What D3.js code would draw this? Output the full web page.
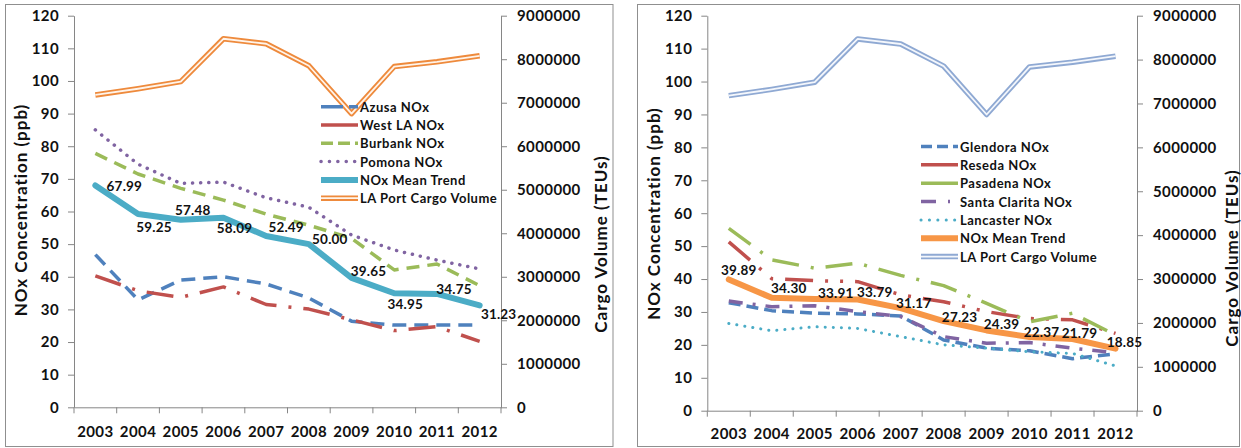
<!DOCTYPE html>
<html>
<head>
<meta charset="utf-8">
<script src="https://cdn.jsdelivr.net/npm/d3@7"></script>
<style>
  html, body { margin: 0; padding: 0; background: #ffffff; }
  svg { display: block; font-family: Lato, "Open Sans", sans-serif; font-weight: 700; }
</style>
</head>
<body>
<svg id="chart" width="1241" height="448"></svg>
<script>
// ---- data -------------------------------------------------------------
const years = ["2003", "2004", "2005", "2006", "2007", "2008", "2009", "2010", "2011", "2012"];
const noxTicks = [0, 10, 20, 30, 40, 50, 60, 70, 80, 90, 100, 110, 120];
const cargoTicks = [0, 1000000, 2000000, 3000000, 4000000, 5000000, 6000000, 7000000, 8000000, 9000000];

// Port of Los Angeles cargo volume (TEUs)
const cargoVolume = [7178940, 7321440, 7484624, 8469853, 8355039, 7849985, 6748994, 7831902, 7940511, 8077714];

// Panel A stations (ppb)
const azusaNOx   = [46.8, 32.9, 39.0, 40.0, 37.8, 33.5, 26.4, 25.2, 25.2, 25.2];
const westLANOx  = [40.3, 35.7, 33.7, 36.9, 31.5, 30.1, 26.8, 23.5, 24.7, 20.2];
const burbankNOx = [77.8, 71.5, 67.1, 63.5, 59.2, 55.8, 51.8, 42.1, 43.9, 37.3];
const pomonaNOx  = [85.0, 74.5, 68.6, 69.0, 64.2, 61.3, 52.8, 48.2, 45.1, 42.4];
const meanTrendA = [67.99, 59.25, 57.48, 58.09, 52.49, 50.00, 39.65, 34.95, 34.75, 31.23];

// Panel B stations (ppb)
const glendoraNOx     = [32.8, 30.4, 29.6, 29.4, 28.8, 21.5, 19.0, 18.2, 15.8, 17.3];
const resedaNOx       = [51.3, 40.1, 39.5, 39.2, 35.2, 33.1, 30.1, 28.0, 27.6, 23.5];
const pasadenaNOx     = [55.4, 45.8, 43.3, 44.8, 41.1, 38.0, 32.6, 27.0, 29.6, 23.0];
const santaClaritaNOx = [33.3, 31.6, 31.9, 30.1, 28.6, 22.5, 20.5, 20.7, 19.0, 17.6];
const lancasterNOx    = [26.5, 24.3, 25.5, 25.0, 22.5, 20.0, 19.0, 17.9, 17.4, 13.6];
const meanTrendB      = [39.89, 34.30, 33.91, 33.79, 31.17, 27.23, 24.39, 22.37, 21.79, 18.85];

// ---- styling / layout ------------------------------------------------
const BLUE = "#4F81BD", RED = "#C0504D", GREEN = "#9BBB59", PURPLE = "#8064A2",
      TEAL = "#4BACC6", ORANGE = "#F79646";

// value-label nudges (px) relative to each mean-trend point
const labelNudgeA = [[29, 1], [16, 13], [12, -10], [11, 10], [20, -9], [21, -5], [17, -7], [11, 11], [17, -5], [19, 9]];
const labelNudgeB = [[10, -9], [17, -10], [21, -6], [17, -7], [13, -5], [16, -4], [15, -6], [12, -5], [7, -6], [9, -7]];

const panels = [
  {
    frame: [5.5, 4.5, 607.5, 442], left: 74, right: 501, top: 15.7, bottom: 407.3,
    xLabelPad: 19, leftTitle: [20, 210], rightTitle: [600, 244],
    legend: { x0: 321, x1: 358, y0: 106.7, step: 18.3 },
    nudges: labelNudgeA,
    series: [
      { name: "Azusa NOx", values: azusaNOx, color: BLUE, width: 3.5, dash: "14,8", legendDash: "22,6" },
      { name: "West LA NOx", values: westLANOx, color: RED, width: 3.5, dash: "27,12,3,12", legendDash: null },
      { name: "Burbank NOx", values: burbankNOx, color: GREEN, width: 3.5, dash: "13,8", legendDash: "12,5" },
      { name: "Pomona NOx", values: pomonaNOx, color: PURPLE, width: 3.5, dash: "0.1,8", cap: "round", legendDash: "0.1,8.3" },
      { name: "NOx Mean Trend", values: meanTrendA, color: TEAL, width: 6, dash: null, labels: true },
      { name: "LA Port Cargo Volume", values: cargoVolume, cargo: true, color: "#EE8A3C", inner: "#FFF4EA" }
    ]
  },
  {
    frame: [637.5, 4.5, 602, 442], left: 707.3, right: 1137, top: 15.7, bottom: 410.7,
    xLabelPad: 17.5, leftTitle: [653, 213.5], rightTitle: [1231, 258],
    legend: { x0: 921, x1: 958, y0: 146.5, step: 18.35 },
    nudges: labelNudgeB,
    series: [
      { name: "Glendora NOx", values: glendoraNOx, color: BLUE, width: 3.5, dash: "12,6", legendDash: "11,5" },
      { name: "Reseda NOx", values: resedaNOx, color: RED, width: 3.5, dash: "28,12,3,12,3,12", legendDash: null },
      { name: "Pasadena NOx", values: pasadenaNOx, color: GREEN, width: 3.5, dash: "27,12,3,12", legendDash: null },
      { name: "Santa Clarita NOx", values: santaClaritaNOx, color: PURPLE, width: 3.5, dash: "14,10,3,10", legendDash: "15,12,2,100" },
      { name: "Lancaster NOx", values: lancasterNOx, color: TEAL, width: 3, dash: "0.1,8", cap: "round", legendDash: "0.1,8.3" },
      { name: "NOx Mean Trend", values: meanTrendB, color: ORANGE, width: 6, dash: null, labels: true },
      { name: "LA Port Cargo Volume", values: cargoVolume, cargo: true, color: "#8FA9D3", inner: "#F4F7FC" }
    ]
  }
];

const AXIS = "#868686";
const svg = d3.select("#chart");

function styleAxis(sel, fontSize) {
  sel.select(".domain").attr("stroke", AXIS).attr("stroke-width", 1);
  sel.selectAll(".tick line").attr("stroke", AXIS).attr("stroke-width", 1);
  sel.selectAll(".tick text")
    .attr("fill", "#111")
    .style("font-family", "Lato, 'Open Sans', sans-serif")
    .style("font-weight", 700)
    .style("font-size", fontSize + "px")
    .style("letter-spacing", "0.4px");
}

function drawPanel(p) {
  const g = svg.append("g");

  // outer frame
  g.append("rect")
    .attr("x", p.frame[0]).attr("y", p.frame[1])
    .attr("width", p.frame[2]).attr("height", p.frame[3])
    .attr("fill", "none").attr("stroke", "#8f8f8f").attr("stroke-width", 1);

  const x = d3.scaleBand().domain(years).range([p.left, p.right]);
  const yL = d3.scaleLinear().domain([0, 120]).range([p.bottom, p.top]);
  const yR = d3.scaleLinear().domain([0, 9000000]).range([p.bottom, p.top]);
  const cx = (i) => x(years[i]) + x.bandwidth() / 2;

  // left axis
  g.append("g")
    .attr("transform", `translate(${p.left},0)`)
    .call(d3.axisLeft(yL).tickValues(noxTicks).tickSize(6).tickPadding(9).tickSizeOuter(0))
    .call(s => styleAxis(s, 15));

  // right axis
  g.append("g")
    .attr("transform", `translate(${p.right},0)`)
    .call(d3.axisRight(yR).tickValues(cargoTicks).tickFormat(d3.format("d")).tickSize(6).tickPadding(10).tickSizeOuter(0))
    .call(s => styleAxis(s, 15));

  // bottom axis: labels centred in each band, ticks on band boundaries
  const xa = g.append("g")
    .attr("transform", `translate(0,${p.bottom})`)
    .call(d3.axisBottom(x).tickSize(0).tickPadding(p.xLabelPad).tickSizeOuter(0))
    .call(s => styleAxis(s, 15));
  const bounds = d3.range(years.length + 1).map(i => p.left + i * x.step());
  xa.selectAll("line.boundary")
    .data(bounds)
    .join("line")
    .attr("class", "boundary")
    .attr("x1", d => d).attr("x2", d => d)
    .attr("y1", 0).attr("y2", 6)
    .attr("stroke", AXIS).attr("stroke-width", 1);

  // axis titles
  g.append("text")
    .attr("transform", `translate(${p.leftTitle[0]},${p.leftTitle[1]}) rotate(-90)`)
    .attr("text-anchor", "middle").attr("dominant-baseline", "central")
    .style("font-size", "17px").style("letter-spacing", "1px")
    .attr("fill", "#111")
    .text("NOx Concentration (ppb)");
  g.append("text")
    .attr("transform", `translate(${p.rightTitle[0]},${p.rightTitle[1]}) rotate(-90)`)
    .attr("text-anchor", "middle").attr("dominant-baseline", "central")
    .style("font-size", "17px").style("letter-spacing", "1px")
    .attr("fill", "#111")
    .text("Cargo Volume (TEUs)");

  // series lines
  const lineL = d3.line().x((d, i) => cx(i)).y(d => yL(d));
  const lineR = d3.line().x((d, i) => cx(i)).y(d => yR(d));

  // cargo first so the NOx lines sit on top where they cross
  p.series.filter(s => s.cargo).forEach(s => {
    g.append("path").attr("d", lineR(s.values))
      .attr("fill", "none").attr("stroke", s.color).attr("stroke-width", 5.5)
      .attr("stroke-linejoin", "round");
    g.append("path").attr("d", lineR(s.values))
      .attr("fill", "none").attr("stroke", s.inner).attr("stroke-width", 1.8)
      .attr("stroke-linejoin", "round");
  });

  p.series.filter(s => !s.cargo).forEach(s => {
    g.append("path").attr("d", lineL(s.values))
      .attr("fill", "none").attr("stroke", s.color).attr("stroke-width", s.width)
      .attr("stroke-dasharray", s.dash)
      .attr("stroke-linecap", s.cap || (s.dash ? "butt" : "round"))
      .attr("stroke-linejoin", "round");
  });

  // value labels on the mean trend
  p.series.filter(s => s.labels).forEach(s => {
    g.selectAll(null)
      .data(s.values)
      .join("text")
      .attr("x", (d, i) => cx(i) + p.nudges[i][0])
      .attr("y", (d, i) => yL(d) + p.nudges[i][1])
      .attr("text-anchor", "middle").attr("dominant-baseline", "central")
      .style("font-size", "13.5px").style("letter-spacing", "0.2px")
      .attr("fill", "#111")
      .text(d => d3.format(".2f")(d));
  });

  // legend
  const L = p.legend;
  p.series.forEach((s, i) => {
    const ly = L.y0 + i * L.step;
    if (s.cargo) {
      g.append("line").attr("x1", L.x0).attr("x2", L.x1).attr("y1", ly).attr("y2", ly)
        .attr("stroke", s.color).attr("stroke-width", 5.5);
      g.append("line").attr("x1", L.x0).attr("x2", L.x1).attr("y1", ly).attr("y2", ly)
        .attr("stroke", s.inner).attr("stroke-width", 1.8);
    } else {
      const dash = s.legendDash === undefined ? s.dash : s.legendDash;
      g.append("line").attr("x1", L.x0).attr("x2", L.x1).attr("y1", ly).attr("y2", ly)
        .attr("stroke", s.color).attr("stroke-width", s.width)
        .attr("stroke-dasharray", dash)
        .attr("stroke-linecap", s.cap || "butt");
    }
    g.append("text")
      .attr("x", L.x1 + 2).attr("y", ly)
      .attr("dominant-baseline", "central")
      .style("font-size", "13px").style("letter-spacing", "0.5px")
      .attr("fill", "#111")
      .text(s.name);
  });
}

panels.forEach(drawPanel);
</script>
</body>
</html>
